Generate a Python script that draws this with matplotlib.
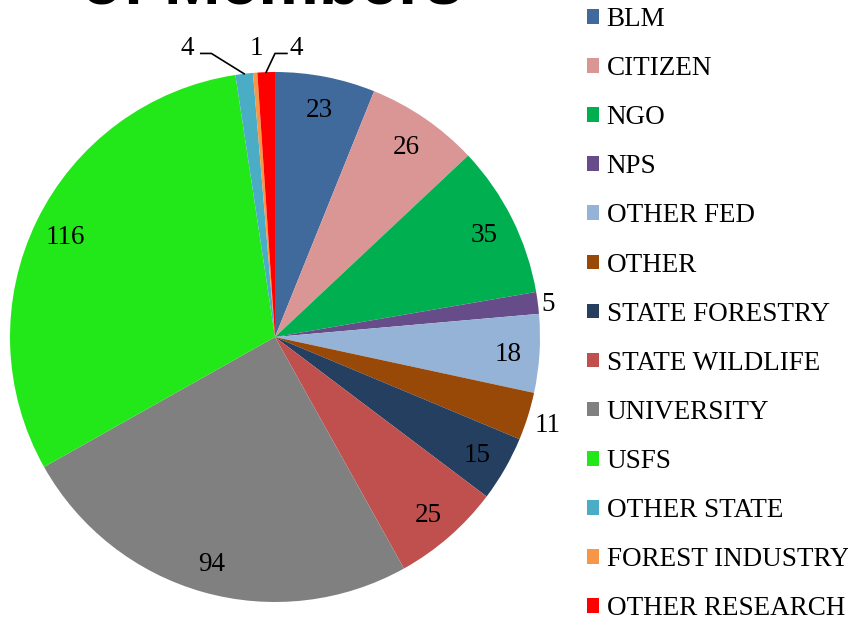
import matplotlib
matplotlib.use("Agg")
import matplotlib.pyplot as plt
import numpy as np

# data
categories = ["BLM", "CITIZEN", "NGO", "NPS", "OTHER FED", "OTHER",
              "STATE FORESTRY", "STATE WILDLIFE", "UNIVERSITY", "USFS",
              "OTHER STATE", "FOREST INDUSTRY", "OTHER RESEARCH"]
members = [23, 26, 35, 5, 18, 11, 15, 25, 94, 116, 4, 1, 4]
colors = ["#406A9C", "#D99694", "#00B050", "#664D8A", "#95B3D7", "#984807",
          "#243F60", "#C0504D", "#808080", "#22E81A", "#4BACC6", "#F79646",
          "#FF0000"]

plt.rcParams['font.family'] = ['Liberation Serif', 'DejaVu Serif']

fig = plt.figure(figsize=(8.48, 6.2), dpi=100)
R = 265.0  # pie radius in px
ax = fig.add_axes([0, 0, 550 / 848, 1])

wedges, _ = ax.pie(members, colors=colors, startangle=90, counterclock=False,
                   radius=1.0, wedgeprops=dict(linewidth=0))
ax.set_aspect("auto")
ax.set_xlim(-275 / R, 275 / R)
ax.set_ylim(-283 / R, 337 / R)
ax.axis("off")

total = float(sum(members))
# label positions: inside for big slices, outside for a few small ones
outside = {3: 1.04, 5: 1.08}
top_small = {10: (-0.33, 1.09, (-0.28, 1.07), (-0.24, 1.07)),
             11: (-0.07, 1.09, None, None),
             12: (0.08, 1.09, (0.045, 1.07), (0.0, 1.07))}
cum = 0
for i, v in enumerate(members):
    mid = 90 - 360 * (cum + v / 2) / total
    cum += v
    a = np.deg2rad(mid)
    if i in top_small:
        tx, ty, p1, p2 = top_small[i]
        ax.text(tx, ty, str(v), ha="center", va="center", fontsize=19.5)
        if p1 is not None:
            ex, ey = np.cos(a) * 1.0, np.sin(a) * 1.0
            ax.plot([p1[0], p2[0], ex], [p1[1], p2[1], ey], color="black", lw=1.2,
                    clip_on=False)
        continue
    d = outside.get(i, 0.88)
    ax.text(d * np.cos(a), d * np.sin(a) - 0.01, str(v), ha="center",
            va="center", fontsize=19.5)

fig.text(272 / 848, 1 - 4 / 620, "of Members", ha="center", va="baseline",
         fontsize=49, fontweight="bold", family="Liberation Sans")

fig.legend(wedges, categories, loc="upper left",
           bbox_to_anchor=(587 / 848, 1 - 7 / 620), frameon=False,
           fontsize=19.5, handlelength=0.45, handleheight=0.45,
           handletextpad=0.28, labelspacing=0.89, borderaxespad=0,
           borderpad=0)

fig.savefig("out.png", dpi=100)
